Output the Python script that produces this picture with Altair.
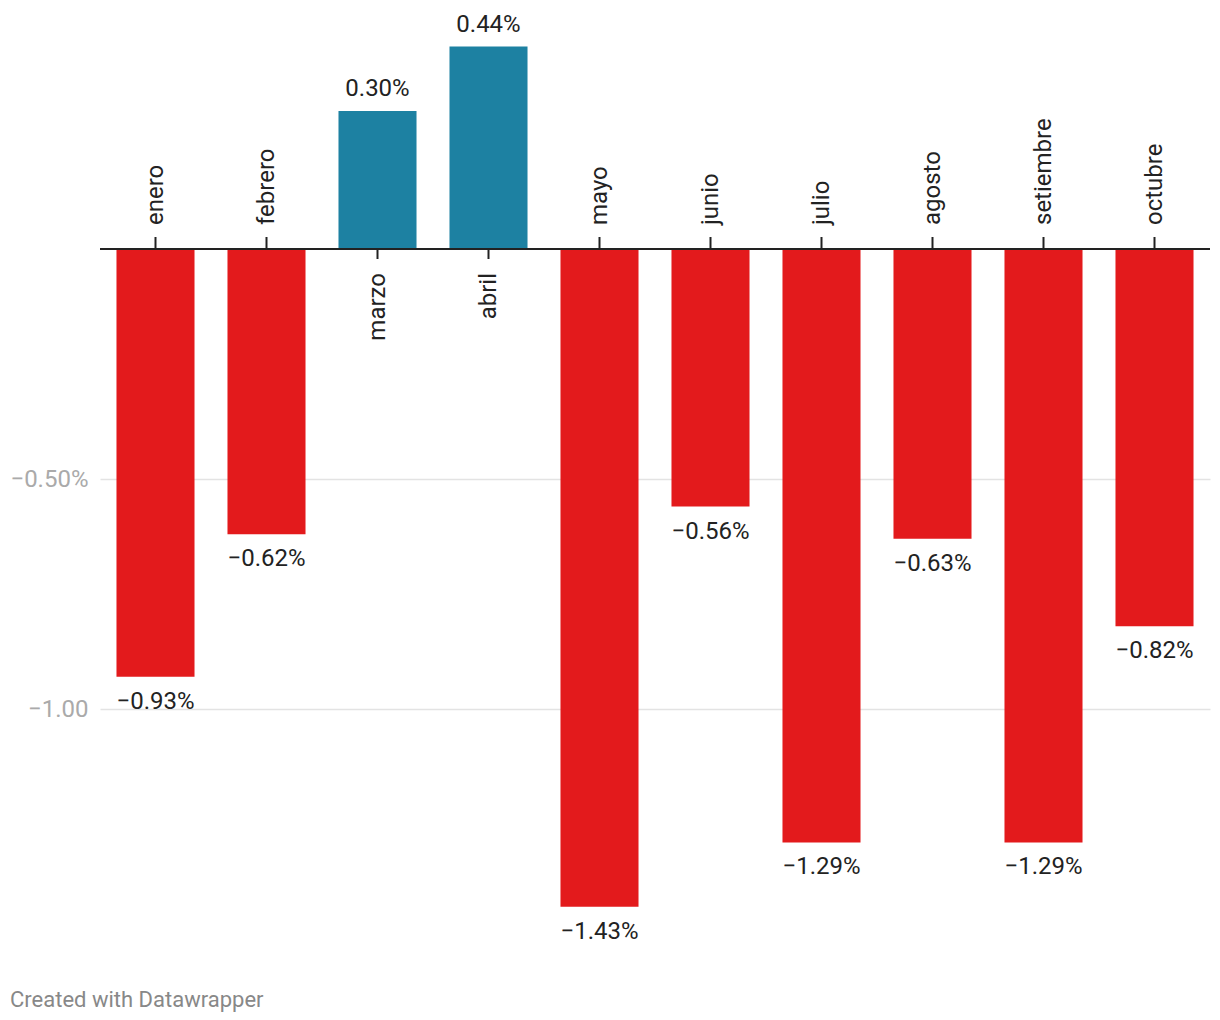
import altair as alt
import pandas as pd

months = ["enero", "febrero", "marzo", "abril", "mayo", "junio",
          "julio", "agosto", "setiembre", "octubre"]
values = [-0.93, -0.62, 0.30, 0.44, -1.43, -0.56, -1.29, -0.63, -1.29, -0.82]
y_ticks = [-0.5, -1.0]
y_tick_labels = ["\u22120.50%", "\u22121.00"]
footer = "Created with Datawrapper"

df = pd.DataFrame({"mes": months, "valor": values})
df["etiqueta"] = [f"{v:.2f}%".replace("-", "\u2212") for v in values]
df["signo"] = ["neg" if v < 0 else "pos" for v in values]

FONT = "Roboto"
RED = "#e31a1c"
BLUE = "#1d81a2"
DARK = "#222222"
FS = 24

label_expr = " : ".join(
    [f"datum.value == {v} ? '{l}'" for v, l in zip(y_ticks, y_tick_labels)]
) + " : ''"

x = alt.X("mes:N", sort=months, axis=None,
          scale=alt.Scale(paddingInner=0.297, paddingOuter=0.1485))
yscale = alt.Scale(domain=[-1.5, 0.5], nice=False, zero=False)
y = alt.Y("valor:Q", scale=yscale, title=None,
          axis=alt.Axis(values=y_ticks, labelExpr=label_expr, grid=True,
                        ticks=False, domain=False, labelPadding=12,
                        labelFont=FONT, labelFontSize=FS, labelColor="#aaaaaa",
                        gridColor="#e3e3e3", gridWidth=1.5))

base = alt.Chart(df)
neg = base.transform_filter("datum.valor < 0")
pos = base.transform_filter("datum.valor >= 0")

bars = base.mark_bar().encode(
    x=x, y=y, y2=alt.datum(0),
    color=alt.Color("signo:N", scale=alt.Scale(domain=["neg", "pos"], range=[RED, BLUE]),
                    legend=None),
)

zero = alt.Chart(df).mark_rule(color=DARK, strokeWidth=2).encode(y=alt.datum(0))

ticks_neg = neg.mark_rule(color=DARK, strokeWidth=2, yOffset=-12).encode(
    x=x, y=alt.datum(0), y2=alt.datum(0))
ticks_pos = pos.mark_rule(color=DARK, strokeWidth=2, y2Offset=10).encode(
    x=x, y=alt.datum(0), y2=alt.datum(0))

cat_neg = neg.mark_text(angle=270, align="left", baseline="middle", dx=24,
                        font=FONT, fontSize=FS, color=DARK).encode(
    x=x, y=alt.datum(0), text="mes:N")
cat_pos = pos.mark_text(angle=270, align="right", baseline="middle", dx=-24,
                        font=FONT, fontSize=FS, color=DARK).encode(
    x=x, y=alt.datum(0), text="mes:N")

val_neg = neg.mark_text(baseline="middle", dy=25, font=FONT, fontSize=FS,
                        color=DARK).encode(x=x, y="valor:Q", text="etiqueta:N")
val_pos = pos.mark_text(baseline="middle", dy=-22, font=FONT, fontSize=FS,
                        color=DARK).encode(x=x, y="valor:Q", text="etiqueta:N")

chart = alt.layer(
    bars, zero, ticks_neg, ticks_pos, cat_neg, cat_pos, val_neg, val_pos
).properties(
    width=1110, height=920,
    autosize=alt.AutoSizeParams(type="none"),
    padding={"left": 92, "top": 11, "right": 2, "bottom": 80},
    title=alt.TitleParams(footer, orient="bottom", anchor="start", frame="group",
                          font=FONT, fontSize=22, fontWeight="normal",
                          color="#888888", dx=-90, offset=46, baseline="top"),
).configure(
    background="white",
    view=alt.ViewConfig(strokeWidth=0, stroke=None),
)

chart.save("out.html", embed_options={"renderer": "svg", "actions": False})
